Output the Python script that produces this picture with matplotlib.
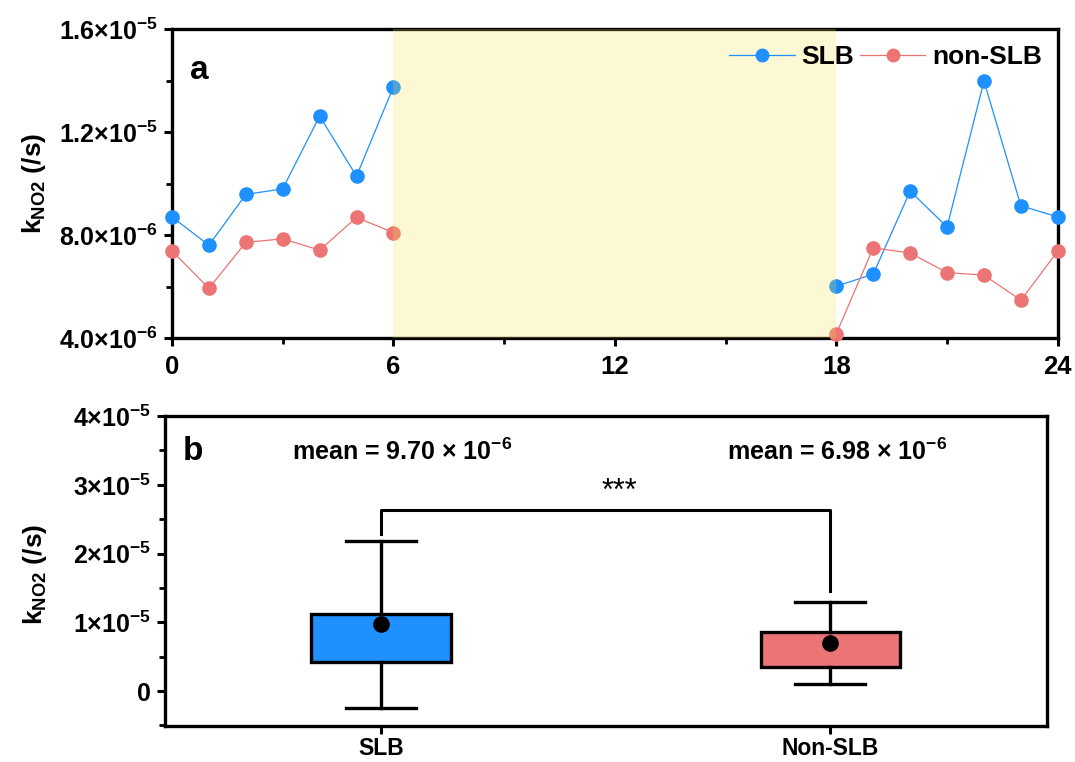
import numpy as np
import matplotlib.pyplot as plt
from matplotlib.ticker import MultipleLocator

plt.rcParams['font.family'] = ['Liberation Sans', 'DejaVu Sans']
plt.rcParams['font.weight'] = 'bold'
plt.rcParams['axes.labelweight'] = 'bold'
plt.rcParams['mathtext.fontset'] = 'custom'
plt.rcParams['mathtext.rm'] = 'Liberation Sans:bold'
plt.rcParams['mathtext.bf'] = 'Liberation Sans:bold'
plt.rcParams['mathtext.it'] = 'Liberation Sans:bold'
plt.rcParams['mathtext.default'] = 'bf'

# hourly rate constants (x 1e-6 /s)
hours_day = [0, 1, 2, 3, 4, 5, 6]
hours_night = [18, 19, 20, 21, 22, 23, 24]
slb_day = [8.71, 7.61, 9.58, 9.80, 12.62, 10.29, 13.76]
slb_night = [6.02, 6.49, 9.71, 8.32, 13.98, 9.14, 8.71]
non_day = [7.39, 5.94, 7.72, 7.86, 7.42, 8.69, 8.10]
non_night = [4.18, 7.51, 7.31, 6.55, 6.45, 5.48, 7.38]

# box summary (x 1e-5 /s)
groups = ['SLB', 'Non-SLB']
q1 = [0.417, 0.354]
q3 = [1.124, 0.853]
whisk_lo = [-0.25, 0.097]
whisk_hi = [2.18, 1.29]
means = [0.970, 0.698]
mean_text = ['9.70', '6.98']

blue = '#1E90FF'
red = '#EC7474'

fig = plt.figure(figsize=(10.75, 7.62), dpi=100)
ax1 = fig.add_axes([0.160, 0.556, 0.824, 0.406])
ax2 = fig.add_axes([0.1535, 0.047, 0.8205, 0.407])

# ---- panel a
for xs, ys in [(hours_day, slb_day), (hours_night, slb_night)]:
    ax1.plot(xs, np.array(ys) * 1e-6, '-o', color=blue, lw=0.9, ms=9.5,
             clip_on=False, zorder=3)
for xs, ys in [(hours_day, non_day), (hours_night, non_night)]:
    ax1.plot(xs, np.array(ys) * 1e-6, '-o', color=red, lw=0.9, ms=9.5,
             clip_on=False, zorder=3)
# night-time shading laid over the data
ax1.axvspan(6, 18, color='#FAE24C', alpha=0.24, lw=0, zorder=10)

ax1.set_xlim(0, 24)
ax1.set_ylim(4e-6, 1.6e-5)
ax1.xaxis.set_minor_locator(MultipleLocator(3))
ax1.set_xticks([0, 6, 12, 18, 24])
ax1.set_xticklabels(['0', '6', '12', '18', '24'], fontsize=18.5)
ax1.set_yticks([4e-6, 8e-6, 1.2e-5, 1.6e-5])
ax1.set_yticklabels([r'4.0×10$^{-6}$', r'8.0×10$^{-6}$',
                     r'1.2×10$^{-5}$', r'1.6×10$^{-5}$'], fontsize=18)
ax1.yaxis.set_minor_locator(MultipleLocator(2e-6))
ax1.set_ylabel(r'k$_{NO2}$ (/s)', fontsize=19)
ax1.yaxis.set_label_coords(-0.14, 0.5)
ax1.text(0.02, 0.865, 'a', transform=ax1.transAxes, fontsize=24,
         va='center')

h1, = ax1.plot([], [], '-o', color=blue, lw=0.9, ms=9)
h2, = ax1.plot([], [], '-o', color=red, lw=0.9, ms=9)
leg = ax1.legend([h1, h2], ['SLB', 'non-SLB'], loc='upper right', ncol=2,
                 frameon=False, fontsize=19, handlelength=2.5,
                 columnspacing=0.2, handletextpad=0.25,
                 borderaxespad=0.45, borderpad=0.15)
leg.set_zorder(20)

# ---- panel b
stats = []
for i in range(2):
    stats.append(dict(med=np.nan, q1=q1[i] * 1e-5, q3=q3[i] * 1e-5,
                      whislo=whisk_lo[i] * 1e-5, whishi=whisk_hi[i] * 1e-5,
                      mean=means[i] * 1e-5, fliers=[]))
bp = ax2.bxp(stats, positions=[1, 2], widths=0.31, patch_artist=True,
             showmeans=True, showfliers=False,
             boxprops=dict(lw=2.4, edgecolor='black'),
             whiskerprops=dict(lw=2.4), capprops=dict(lw=2.4),
             medianprops=dict(lw=0),
             meanprops=dict(marker='o', markerfacecolor='black',
                            markeredgecolor='black', markersize=11))
for patch, c in zip(bp['boxes'], [blue, red]):
    patch.set_facecolor(c)
for cap in bp['caps']:
    c = np.mean(cap.get_xdata())
    cap.set_xdata([c - 0.078, c + 0.078])

for i in range(2):
    ax2.text(1 + i * 1.0 + (0.047 if i == 0 else 0.016), 3.48e-5,
             'mean = ' + mean_text[i] + r' × 10$^{-6}$',
             ha='center', va='center', fontsize=18)

# significance bracket
ax2.plot([1, 1, 2, 2], [2.29e-5, 2.64e-5, 2.64e-5, 1.46e-5],
         color='black', lw=2.2)
ax2.text(1.53, 2.9e-5, '***', ha='center', va='center', fontsize=22,
         fontweight='normal')

ax2.set_xlim(0.519, 2.483)
ax2.set_ylim(-0.51e-5, 4e-5)
ax2.set_xticks([1, 2])
ax2.set_xticklabels(groups, fontsize=16.5)
ax2.set_yticks([0, 1e-5, 2e-5, 3e-5, 4e-5])
ax2.set_yticklabels(['0', r'1×10$^{-5}$', r'2×10$^{-5}$',
                     r'3×10$^{-5}$', r'4×10$^{-5}$'], fontsize=18)
ax2.yaxis.set_minor_locator(MultipleLocator(0.5e-5))
ax2.set_ylabel(r'k$_{NO2}$ (/s)', fontsize=19)
ax2.yaxis.set_label_coords(-0.132, 0.49)
ax2.text(0.02, 0.885, 'b', transform=ax2.transAxes, fontsize=24,
         va='center')

for ax in (ax1, ax2):
    for s in ax.spines.values():
        s.set_linewidth(2.4)
    ax.tick_params(which='major', direction='out', width=2.2, length=6,
                   pad=4)
    ax.tick_params(which='minor', direction='out', width=2.0, length=4)
ax2.tick_params(axis='x', which='minor', length=0)
ax2.tick_params(axis='x', pad=2)
ax1.tick_params(axis='x', pad=6)

plt.savefig('out.png', dpi=100)
